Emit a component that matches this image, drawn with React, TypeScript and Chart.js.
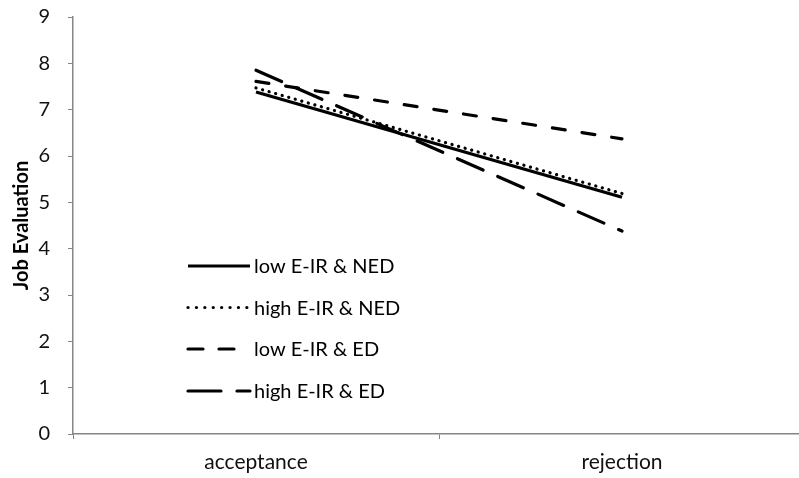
import React, { useEffect, useRef } from "react";
import { Chart, registerables } from "chart.js";

Chart.register(...registerables);

const categories = ["acceptance", "rejection"];
const seriesLabels = ["low E-IR & NED", "high E-IR & NED", "low E-IR & ED", "high E-IR & ED"];
const lowEirNed = [7.38, 5.11];
const highEirNed = [7.47, 5.19];
const lowEirEd = [7.61, 6.37];
const highEirEd = [7.85, 4.38];
const yTicks = [0, 1, 2, 3, 4, 5, 6, 7, 8, 9];

const FONT = "Lato, 'Open Sans', sans-serif";
const AXIS = "#868686";

const legendPlugin = {
  id: "insideLegend",
  afterDraw(chart: any) {
    const ctx = chart.ctx;
    const x0 = 188;
    const x1 = 250;
    const rows = [266, 307.5, 349, 391];
    ctx.save();
    chart.data.datasets.forEach((ds: any, i: number) => {
      const y = rows[i];
      ctx.beginPath();
      ctx.strokeStyle = ds.borderColor;
      ctx.lineWidth = ds.borderWidth;
      ctx.lineCap = ds.borderCapStyle || "butt";
      ctx.setLineDash(ds.legendDash || ds.borderDash || []);
      ctx.moveTo(x0, y);
      ctx.lineTo(x1, y);
      ctx.stroke();
      ctx.setLineDash([]);
      ctx.fillStyle = "#000";
      ctx.font = `20px ${FONT}`;
      ctx.textBaseline = "middle";
      ctx.textAlign = "left";
      ctx.fillText(ds.label, 254, y + 1);
    });
    ctx.restore();
  },
};

export default function App() {
  const ref = useRef<HTMLCanvasElement | null>(null);

  useEffect(() => {
    document.body.style.margin = "0";
    const canvas = ref.current!;
    const chart = new Chart(canvas, {
      type: "line",
      data: {
        labels: categories,
        datasets: [
          {
            label: seriesLabels[0],
            data: lowEirNed,
            borderColor: "#000",
            borderWidth: 3.2,
            borderCapStyle: "butt",
            pointRadius: 0,
          },
          {
            label: seriesLabels[1],
            data: highEirNed,
            borderColor: "#000",
            borderWidth: 3.2,
            borderCapStyle: "round",
            borderDash: [0.1, 6.7],
            legendDash: [0.1, 8.3],
            pointRadius: 0,
          } as any,
          {
            label: seriesLabels[2],
            data: lowEirEd,
            borderColor: "#000",
            borderWidth: 3.2,
            borderCapStyle: "round",
            borderDash: [13, 17],
            legendDash: [15, 16],
            pointRadius: 0,
          } as any,
          {
            label: seriesLabels[3],
            data: highEirEd,
            borderColor: "#000",
            borderWidth: 3.2,
            borderCapStyle: "round",
            borderDash: [28, 16],
            legendDash: [33, 16],
            pointRadius: 0,
          } as any,
        ],
      },
      options: {
        responsive: false,
        animation: false,
        layout: { padding: { top: 17, right: 1, left: 0, bottom: 0 } },
        plugins: {
          legend: { display: false },
          tooltip: { enabled: false },
        },
        scales: {
          x: {
            type: "category",
            offset: true,
            grid: {
              offset: true,
              drawOnChartArea: false,
              drawTicks: true,
              tickLength: 5,
              color: AXIS,
              lineWidth: 1,
            },
            border: { color: AXIS, width: 1.5 },
            ticks: {
              color: "#111",
              font: { family: FONT, size: 21 },
              padding: 11,
            },
            afterFit(scale: any) {
              scale.height = 44;
              scale.paddingLeft = 0;
              scale.paddingRight = 0;
            },
          },
          y: {
            min: 0,
            max: 9,
            afterBuildTicks(scale: any) {
              scale.ticks = yTicks.map((v) => ({ value: v }));
            },
            grid: {
              drawOnChartArea: false,
              drawTicks: true,
              tickLength: 5,
              color: AXIS,
              lineWidth: 1,
            },
            border: { color: AXIS, width: 1.5 },
            ticks: {
              color: "#111",
              font: { family: FONT, size: 20 },
              padding: 18,
            },
            title: {
              display: true,
              text: "Job Evaluation",
              color: "#000",
              font: { family: FONT, size: 20, weight: "bold" },
              padding: { top: 10, bottom: 0 },
            },
            afterFit(scale: any) {
              scale.width = 73;
              scale.paddingTop = 0;
              scale.paddingBottom = 0;
            },
          },
        },
      },
      plugins: [legendPlugin],
    });
    return () => chart.destroy();
  }, []);

  return (
    <div
      style={{
        position: "absolute",
        left: 0,
        top: 0,
        width: 799,
        height: 478,
        overflow: "hidden",
        background: "#fff",
      }}
    >
      <canvas ref={ref} width={806} height={478} style={{ display: "block" }} />
    </div>
  );
}
